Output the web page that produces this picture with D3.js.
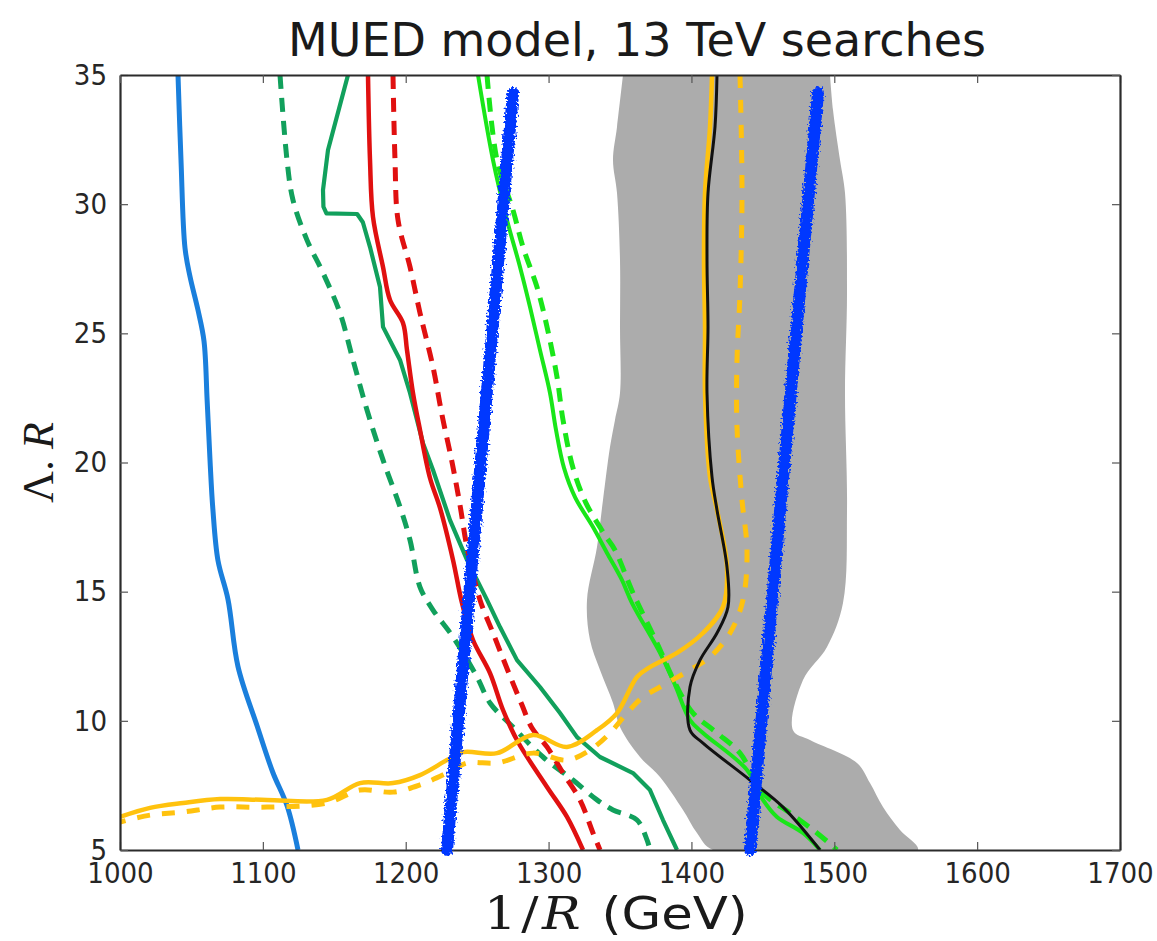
<!DOCTYPE html>
<html>
    <head>
        <title>MUED model, 13 TeV searches</title>
        <script src="https://d3js.org/d3.v7.min.js"></script>
        <style>
            body { margin: 0; background: #fff; }
            svg { display: block; }
            .tick text { font-family: 'DejaVu Sans Condensed', 'DejaVu Sans', sans-serif; font-stretch: condensed; fill: #262626; }
        </style>
    </head>
    <body>
        <script>
            // x: 1/R (GeV), y: Lambda.R
            const xTicks = [1000, 1100, 1200, 1300, 1400, 1500, 1600, 1700]
            const yTicks = [5, 10, 15, 20, 25, 30, 35]

            const blueSolid = [[1040.6,35],[1042.7,31.7],[1045.5,28.3],[1049,27.2],[1054.6,25.9],[1058.8,24.7],[1061,22.4],[1063,20.1],[1065,18.2],[1068.6,16.2],[1075.6,14.7],[1082.6,12.1],[1096,9.8],[1107,8.0],[1117,6.7],[1124.6,5]]

            const darkGreenSolid = [[1159.6,35],[1145.6,32.1],[1142.1,30.55],[1142.4,29.9],[1144.5,29.64],[1166,29.62],[1170,29.3],[1175,28.34],[1182,26.79],[1184.1,25.25],[1196,23.97],[1203,22.69],[1212.1,20.75],[1219.1,19.71],[1231,17.77],[1242.9,16.23],[1256.9,14.68],[1266,13.63],[1277.9,12.35],[1294,11.31],[1308,10.3],[1319.9,9.37],[1336,8.6],[1359.1,7.98],[1371,7.32],[1380.1,6.16],[1389.9,5]]
            const darkGreenDashed = [[1112,35],[1116.9,31.71],[1121.1,30.16],[1130.9,28.61],[1142.1,27.34],[1154,25.79],[1163.1,23.97],[1172.9,22.03],[1184.1,20.1],[1196,18.28],[1203,17],[1210,15.18],[1219.1,14.29],[1233.1,13.25],[1249.9,11.7],[1259,10.69],[1275.1,9.76],[1296.1,8.6],[1317.1,7.71],[1333.9,6.94],[1345.1,6.55],[1361.9,6.16],[1368.9,5.39],[1371,5]]

            const redSolid = [[1173.6,35],[1175,31.71],[1177.1,29.5],[1184.1,27.57],[1189,26.29],[1198.1,25.4],[1200.9,24.35],[1205.1,22.69],[1210,21.26],[1217,19.4],[1224,18.24],[1233.1,16.23],[1239.4,14.56],[1247.1,13.13],[1259,11.85],[1268.1,10.42],[1278.6,9.18],[1298.9,7.44],[1312.9,6.28],[1324.1,5]]
            const redDashed = [[1191.1,35],[1192.5,31.71],[1194.6,29.39],[1203,27.57],[1210,25.79],[1219.1,23.7],[1225.4,21.84],[1232.4,20.02],[1238,18.35],[1242.9,16.73],[1252,14.68],[1261.1,13.4],[1271.6,11.93],[1281.4,10.61],[1288.4,9.72],[1298.9,8.99],[1310.1,7.98],[1322,6.94],[1331.1,5.66],[1336,5]]

            const limeSolid = [[1250.6,35],[1261.1,31.71],[1270.9,29.39],[1280,27.57],[1287,26.02],[1294,24.35],[1301,22.69],[1305.2,21.26],[1310.8,19.79],[1318.5,18.66],[1331.1,17.5],[1340.9,16.5],[1351.4,15.45],[1358.4,14.56],[1378,12.63],[1388.5,11.39],[1399,10.03],[1408.1,9.53],[1438.9,8.1],[1450.1,6.94],[1459.9,6.28],[1478.1,5.66],[1490,5]]
            const limeDashed = [[1256.9,35],[1263.9,31.71],[1275.1,29.77],[1282.1,28.34],[1291.9,26.79],[1298.9,25.25],[1305.9,23.31],[1310.1,21.65],[1317.1,19.79],[1326.2,18.43],[1339.5,17.19],[1346.5,16.61],[1359.1,14.95],[1375.9,13.01],[1389.9,11.31],[1401.1,10.3],[1417.9,9.53],[1434,8.75],[1450.1,7.21],[1469,6.43],[1487.9,5.66],[1501.9,5]]

            const blackSolid = [[1417.9,35],[1416.5,32.99],[1411.6,30.43],[1410.9,27.84],[1411.6,25.25],[1410.9,22.69],[1414.4,19.44],[1417.9,18.16],[1424.9,15.95],[1425.6,14.41],[1417.9,13.4],[1406,12.35],[1399,11.31],[1399,9.64],[1408.1,9.14],[1441,7.71],[1464.1,6.66],[1490,5]]

            const orangeSolid = [[1414.4,35],[1413,32.99],[1409.5,30.43],[1408.8,27.84],[1409.5,25.25],[1409.5,22.69],[1413,19.44],[1417.9,18.16],[1424.9,15.95],[1422.1,14.41],[1408.1,13.4],[1389.9,12.63],[1371,12.08],[1361.9,11.7],[1347.9,10.3],[1333.9,9.64],[1312.9,8.99],[1289.1,9.45],[1263.9,8.75],[1240.1,8.79],[1228.9,8.48],[1210,7.9],[1191.1,7.59],[1168,7.59],[1144.9,6.94],[1102.9,6.94],[1070,6.97],[1044.1,6.82],[1021,6.63],[1000,6.28]]
            const orangeDashed = [[1434,35],[1435.4,30.43],[1434,26.56],[1431.9,23.97],[1431.9,21.37],[1435.4,18.55],[1438.9,16.61],[1436.1,14.68],[1427,13.4],[1413,12.47],[1399,11.97],[1378,11.31],[1366.1,10.92],[1354.9,10.3],[1343,9.53],[1329,8.87],[1312.9,8.48],[1289.1,8.75],[1263.9,8.37],[1242.9,8.37],[1228.9,7.98],[1210,7.52],[1191.1,7.24],[1168,7.32],[1144.9,6.82],[1102.9,6.66],[1070,6.66],[1044.1,6.47],[1021,6.35],[1000,6.08]]

            // grey band: left and right edges, top to bottom
            const bandLeft = [[1352.1,35],[1347.9,32.99],[1345.1,31.71],[1347.9,30.43],[1350,27.84],[1350,25.25],[1350,22.69],[1346.5,21.65],[1343,20.6],[1338.1,18.55],[1333.9,16.73],[1326.9,14.68],[1329,13.13],[1336,11.97],[1345.1,10.69],[1350,9.76],[1364,8.6],[1378,7.83],[1394.1,6.55],[1403.9,5.66],[1415.1,5]]
            const bandRight = [[1497,35],[1499.1,33.65],[1504,31.71],[1507.5,30.43],[1508.9,26.56],[1507.5,22.69],[1508.9,18.16],[1506.1,14.56],[1494.9,12.86],[1478.1,11.58],[1471.1,9.64],[1483,9.26],[1515.9,8.37],[1525,7.59],[1534.1,6.66],[1546,5.77],[1558.6,5]]

            // hand drawn blue strokes
            const strokeLeft = [[1228.9,5],[1249.9,18.35],[1275.1,34.3]]
            const strokeRight = [[1441,5],[1462.7,18.55],[1488.6,34.3]]

            const width = 1157
            const height = 941
            const margin = { top: 75, right: 37, bottom: 91, left: 120 }

            const svg = d3.select('body').append('svg')
                .attr('width', width)
                .attr('height', height)

            const xScale = d3.scaleLinear().domain([1000, 1700]).range([margin.left, width - margin.right])
            const yScale = d3.scaleLinear().domain([5, 35]).range([height - margin.bottom, margin.top])

            const defs = svg.append('defs')
            defs.append('clipPath').attr('id', 'plot')
                .append('rect')
                    .attr('x', margin.left).attr('y', margin.top)
                    .attr('width', xScale(1700) - xScale(1000))
                    .attr('height', yScale(5) - yScale(35))

            const rough = defs.append('filter').attr('id', 'rough')
                .attr('filterUnits', 'userSpaceOnUse')
                .attr('x', 0).attr('y', 0).attr('width', width).attr('height', height)
            rough.append('feTurbulence')
                .attr('type', 'fractalNoise').attr('baseFrequency', 0.5)
                .attr('numOctaves', 2).attr('seed', 3).attr('result', 'noise')
            rough.append('feDisplacementMap')
                .attr('in', 'SourceGraphic').attr('in2', 'noise')
                .attr('scale', 8)
                .attr('xChannelSelector', 'R').attr('yChannelSelector', 'G')

            const smooth = d3.line()
                .x(d => xScale(d[0])).y(d => yScale(d[1]))
                .curve(d3.curveCatmullRom.alpha(0.5))
            const straight = d3.line().x(d => xScale(d[0])).y(d => yScale(d[1]))

            const g = svg.append('g').attr('clip-path', 'url(#plot)')

            g.append('path')
                .attr('d', smooth(bandLeft.concat(bandRight.slice().reverse())) + 'Z')
                .attr('fill', '#acacac')

            const curves = [
                { data: blueSolid, color: '#1a7fdc', w: 5 },
                { data: darkGreenDashed, color: '#11a05c', w: 5, dash: '14,9' },
                { data: darkGreenSolid, color: '#11a05c', w: 4.2, sharp: true },
                { data: redDashed, color: '#e01010', w: 5, dash: '14,9' },
                { data: redSolid, color: '#e01010', w: 4.5 },
                { data: limeDashed, color: '#19e619', w: 5, dash: '14,9' },
                { data: limeSolid, color: '#19e619', w: 4 },
                { data: orangeDashed, color: '#ffc20e', w: 5, dash: '13,12' },
                { data: orangeSolid, color: '#ffc20e', w: 4.5 },
                { data: blackSolid, color: '#111111', w: 3 }
            ]

            g.selectAll('.curve')
                .data(curves).enter()
                .append('path')
                    .attr('class', 'curve')
                    .attr('d', d => d.sharp ? straight(d.data) : smooth(d.data))
                    .attr('fill', 'none')
                    .attr('stroke', d => d.color)
                    .attr('stroke-width', d => d.w)
                    .attr('stroke-dasharray', d => d.dash || null)
                    .attr('stroke-linejoin', 'round')

            // axes, ticks pointing inward
            const tickLen = 8
            const fmt = d3.format('d')
            const xAxis = d3.axisBottom(xScale).tickValues(xTicks).tickFormat(fmt).tickSize(-tickLen).tickSizeOuter(0).tickPadding(12)
            const yAxis = d3.axisLeft(yScale).tickValues(yTicks).tickFormat(fmt).tickSize(-tickLen).tickSizeOuter(0).tickPadding(13)
            const xTop = d3.axisTop(xScale).tickValues(xTicks).tickSize(-tickLen).tickSizeOuter(0).tickFormat('')
            const yRight = d3.axisRight(yScale).tickValues(yTicks).tickSize(-tickLen).tickSizeOuter(0).tickFormat('')

            const axes = [
                svg.append('g').attr('transform', `translate(0, ${yScale(5)})`).call(xAxis),
                svg.append('g').attr('transform', `translate(${xScale(1000)}, 0)`).call(yAxis),
                svg.append('g').attr('transform', `translate(0, ${yScale(35)})`).call(xTop),
                svg.append('g').attr('transform', `translate(${xScale(1700)}, 0)`).call(yRight)
            ]
            axes.forEach(a => {
                a.select('.domain').attr('stroke', '#2b2b2b').attr('stroke-width', 2.2)
                a.selectAll('.tick line').attr('stroke', '#555').attr('stroke-width', 1.2)
                a.selectAll('.tick text').style('font-size', '29px')
            })

            // the two hand drawn strokes go over everything
            svg.append('g').attr('filter', 'url(#rough)')
                .selectAll('path')
                .data([strokeLeft, strokeRight]).enter()
                .append('path')
                    .attr('d', d => straight(d))
                    .attr('fill', 'none')
                    .attr('stroke', '#0637ff')
                    .attr('stroke-width', 12)
                    .attr('stroke-linecap', 'round')

            // title and labels
            svg.append('text')
                .attr('x', (xScale(1000) + xScale(1700)) / 2 + 17)
                .attr('y', 56)
                .attr('text-anchor', 'middle')
                .style('font-family', "'DejaVu Sans', sans-serif")
                .style('font-size', '46px')
                .attr('fill', '#1a1a1a')
                .text('MUED model, 13 TeV searches')

            const xLab = svg.append('text')
                .attr('transform', 'translate(484, 929) scale(1.14, 1)')
                .style('font-size', '45px')
                .attr('fill', '#1a1a1a')
            xLab.append('tspan').style('font-family', "'DejaVu Serif', serif").text('1')
            xLab.append('tspan').attr('dx', 4).style('font-family', "'DejaVu Serif', serif").text('/')
            xLab.append('tspan').attr('dx', 3).style('font-family', "'DejaVu Serif', serif").style('font-style', 'italic').text('R')
            xLab.append('tspan').attr('dx', 4).style('font-family', "'DejaVu Sans', sans-serif").text(' (GeV)')

            const yLab = svg.append('text')
                .attr('transform', `translate(53, ${(yScale(5) + yScale(35)) / 2}) rotate(-90)`)
                .attr('text-anchor', 'middle')
                .style('font-family', "'Liberation Serif', serif")
                .style('font-size', '44px')
                .attr('fill', '#1a1a1a')
            yLab.append('tspan').text('Λ. ')
            yLab.append('tspan').style('font-style', 'italic').text('R')
        </script>
    </body>
</html>
